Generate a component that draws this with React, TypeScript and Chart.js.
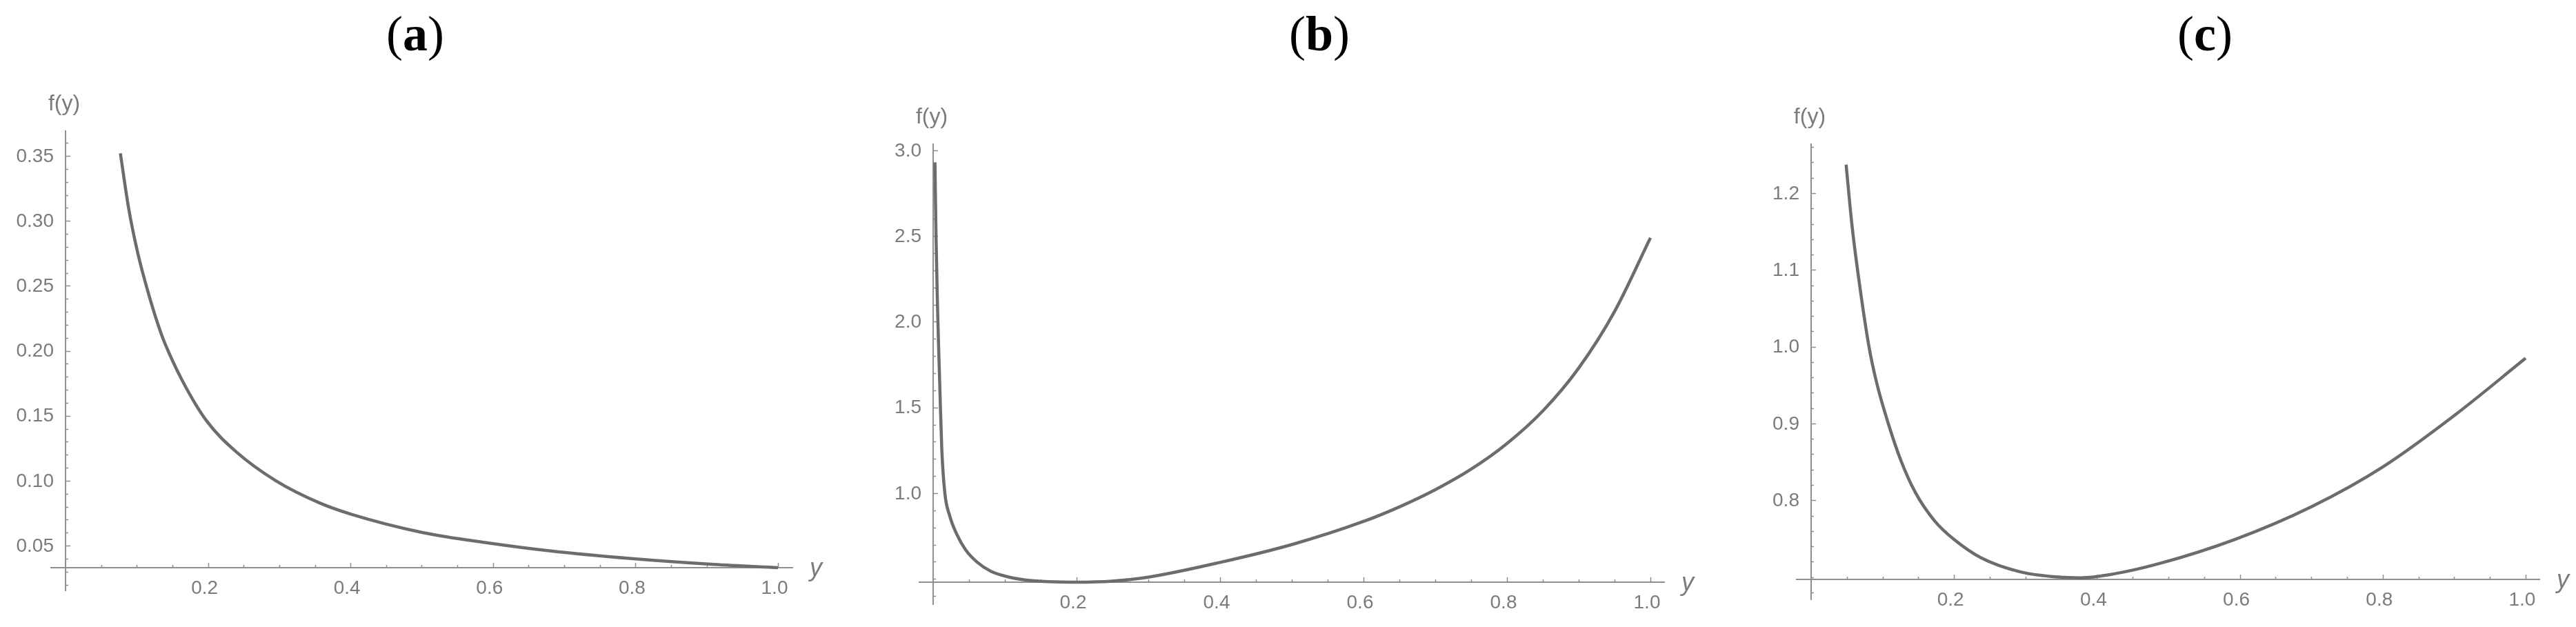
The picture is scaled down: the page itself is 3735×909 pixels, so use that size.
import React, { useEffect, useRef } from 'react';
import { Chart, registerables } from 'chart.js';

Chart.register(...registerables);

// ---------- data: panel (a) ----------
const aX = [0.077, 0.0885, 0.1015, 0.117, 0.134, 0.140, 0.163, 0.198, 0.240, 0.295, 0.356, 0.402, 0.502, 0.594, 0.679, 0.794, 0.910, 1.0];
const aY = [0.352, 0.310, 0.275, 0.243, 0.2135, 0.205, 0.178, 0.146, 0.122, 0.100, 0.083, 0.074, 0.060, 0.052, 0.046, 0.040, 0.0355, 0.033];

// ---------- data: panel (b) ----------
const bX = [0.0025, 0.004, 0.006, 0.008, 0.010, 0.012, 0.0163, 0.0228, 0.0324, 0.045, 0.0612, 0.0805, 0.106, 0.132, 0.16, 0.2, 0.25, 0.3, 0.4, 0.5, 0.6, 0.65, 0.7, 0.75, 0.8, 0.85, 0.9, 0.95, 1.0];
const bY = [2.93, 2.50, 2.10, 1.80, 1.52, 1.26, 1.0, 0.872, 0.765, 0.671, 0.598, 0.544, 0.51, 0.492, 0.484, 0.481, 0.487, 0.51, 0.596, 0.70, 0.835, 0.92, 1.02, 1.14, 1.29, 1.48, 1.73, 2.06, 2.49];

// ---------- data: panel (c) ----------
const cX = [0.049, 0.057, 0.065, 0.081, 0.092, 0.108, 0.126, 0.146, 0.173, 0.2, 0.238, 0.292, 0.346, 0.377, 0.423, 0.485, 0.593, 0.701, 0.801, 0.901, 1.0];
const cY = [1.237, 1.16, 1.10, 1.0, 0.952, 0.9, 0.851, 0.810, 0.773, 0.749, 0.725, 0.707, 0.700, 0.699, 0.704, 0.717, 0.749, 0.792, 0.844, 0.911, 0.985];

// ---------- tick labels ----------
const xTickValues = [0.2, 0.4, 0.6, 0.8, 1.0];
const xTickLabels = ['0.2', '0.4', '0.6', '0.8', '1.0'];
const aYTickValues = [0.05, 0.10, 0.15, 0.20, 0.25, 0.30, 0.35];
const aYTickLabels = ['0.05', '0.10', '0.15', '0.20', '0.25', '0.30', '0.35'];
const bYTickValues = [1.0, 1.5, 2.0, 2.5, 3.0];
const bYTickLabels = ['1.0', '1.5', '2.0', '2.5', '3.0'];
const cYTickValues = [0.8, 0.9, 1.0, 1.1, 1.2];
const cYTickLabels = ['0.8', '0.9', '1.0', '1.1', '1.2'];
const panelLetters = ['a', 'b', 'c'];
const yAxisName = 'f(y)';
const xAxisName = 'y';

// ---------- styling / layout ----------
const PANEL_W = 1245;
const PANEL_H = 909;
const CURVE_COLOR = '#6c6c6c';
const AXIS_COLOR = '#8f8f8f';
const LABEL_COLOR = '#7b7b7b';
const SANS = '"Liberation Sans", Arial, sans-serif';

type PanelCfg = {
  letter: string;
  titleX: number;
  xs: number[];
  ys: number[];
  xMin: number; xMax: number; yMin: number; yMax: number;
  cross: number;
  yTicks: number[]; yLabels: string[];
  yMinorStep: number;
  pad: { left: number; right: number; top: number; bottom: number };
};

const panels: PanelCfg[] = [
  {
    letter: panelLetters[0], titleX: 602, xs: aX, ys: aY,
    xMin: -0.0213, xMax: 1.0213, yMin: 0.01496, yMax: 0.36965, cross: 0.033,
    yTicks: aYTickValues, yLabels: aYTickLabels, yMinorStep: 0.01,
    pad: { left: 73, right: 95, top: 189, bottom: 52 },
  },
  {
    letter: panelLetters[1], titleX: 1913 - PANEL_W, xs: bX, ys: bY,
    xMin: -0.0202, xMax: 1.0202, yMin: 0.348, yMax: 3.0402, cross: 0.481,
    yTicks: bYTickValues, yLabels: bYTickLabels, yMinorStep: 0.1,
    pad: { left: 87, right: 76, top: 208, bottom: 32 },
  },
  {
    letter: panelLetters[2], titleX: 3197 - 2 * PANEL_W, xs: cX, ys: cY,
    xMin: -0.0212, xMax: 1.0203, yMin: 0.67, yMax: 1.2647, cross: 0.697,
    yTicks: cYTickValues, yLabels: cYTickLabels, yMinorStep: 0.02,
    pad: { left: 114, right: 52, top: 208, bottom: 39 },
  },
];

function steps(min: number, max: number, step: number): number[] {
  const out: number[] = [];
  const start = Math.ceil(min / step - 1e-9);
  const end = Math.floor(max / step + 1e-9);
  for (let i = start; i <= end; i++) out.push(+(i * step).toFixed(6));
  return out;
}

function makeAxesPlugin(cfg: PanelCfg) {
  return {
    id: 'mathAxes_' + cfg.letter,
    beforeDatasetsDraw(chart: any) {
      const { ctx, chartArea } = chart;
      const xs = chart.scales.x;
      const ys = chart.scales.y;
      const ax = Math.round(xs.getPixelForValue(0));
      const ay = Math.round(ys.getPixelForValue(cfg.cross));
      ctx.save();
      ctx.strokeStyle = AXIS_COLOR;
      ctx.lineWidth = 2;
      ctx.beginPath();
      ctx.moveTo(chartArea.left, ay);
      ctx.lineTo(chartArea.right, ay);
      ctx.moveTo(ax, chartArea.top);
      ctx.lineTo(ax, chartArea.bottom);
      ctx.stroke();

      ctx.lineWidth = 1.5;
      ctx.beginPath();
      const yMinor = steps(cfg.yMin, cfg.yMax, cfg.yMinorStep);
      yMinor.forEach((v) => {
        const py = Math.round(ys.getPixelForValue(v)) + 0.5;
        const major = cfg.yTicks.some((t) => Math.abs(t - v) < 1e-6);
        ctx.moveTo(ax, py);
        ctx.lineTo(ax + (major ? 7 : 4), py);
      });
      const xMinor = steps(0.0001, cfg.xMax, 0.05);
      xMinor.forEach((v) => {
        const px = Math.round(xs.getPixelForValue(v)) + 0.5;
        const major = xTickValues.some((t) => Math.abs(t - v) < 1e-6);
        ctx.moveTo(px, ay);
        ctx.lineTo(px, ay - (major ? 7 : 4));
      });
      ctx.stroke();
      ctx.restore();
    },
    afterDraw(chart: any) {
      const { ctx, chartArea } = chart;
      const xs = chart.scales.x;
      const ys = chart.scales.y;
      const ax = xs.getPixelForValue(0);
      const ay = ys.getPixelForValue(cfg.cross);
      ctx.save();
      ctx.fillStyle = LABEL_COLOR;
      ctx.font = `28px ${SANS}`;
      ctx.textAlign = 'right';
      ctx.textBaseline = 'middle';
      cfg.yTicks.forEach((v, i) => {
        ctx.fillText(cfg.yLabels[i], ax - 17, ys.getPixelForValue(v) + 1);
      });
      ctx.textAlign = 'center';
      xTickValues.forEach((v, i) => {
        ctx.fillText(xTickLabels[i], xs.getPixelForValue(v) - 5, ay + 30);
      });
      ctx.font = `32px ${SANS}`;
      ctx.fillText(yAxisName, ax - 2, chartArea.top - 38);
      ctx.font = `italic 36px ${SANS}`;
      ctx.fillText(xAxisName, chartArea.right + 33, ay + 2);
      ctx.restore();
    },
  };
}

function Panel({ cfg, index }: { cfg: PanelCfg; index: number }) {
  const ref = useRef<HTMLCanvasElement | null>(null);
  useEffect(() => {
    if (!ref.current) return;
    const chart = new Chart(ref.current, {
      type: 'line',
      data: {
        datasets: [
          {
            data: cfg.xs.map((x, i) => ({ x, y: cfg.ys[i] })),
            borderColor: CURVE_COLOR,
            borderWidth: 4.5,
            pointRadius: 0,
            fill: false,
            cubicInterpolationMode: 'monotone',
          },
        ],
      },
      options: {
        responsive: false,
        animation: false,
        events: [],
        layout: { padding: cfg.pad, autoPadding: false },
        scales: {
          x: { type: 'linear', min: cfg.xMin, max: cfg.xMax, display: false },
          y: { type: 'linear', min: cfg.yMin, max: cfg.yMax, display: false },
        },
        plugins: {
          legend: { display: false },
          tooltip: { enabled: false },
        },
      },
      plugins: [makeAxesPlugin(cfg)],
    } as any);
    return () => chart.destroy();
  }, [cfg]);
  return (
    <canvas
      ref={ref}
      width={PANEL_W}
      height={PANEL_H}
      style={{ position: 'absolute', left: index * PANEL_W, top: 0, width: PANEL_W, height: PANEL_H }}
    />
  );
}

export default function App() {
  return (
    <div
      style={{
        position: 'absolute',
        left: 0,
        top: 0,
        width: PANEL_W * 3,
        height: PANEL_H,
        background: '#ffffff',
        overflow: 'hidden',
      }}
    >
      {panels.map((cfg, i) => (
        <React.Fragment key={cfg.letter}>
          <Panel cfg={cfg} index={i} />
          <div
            style={{
              position: 'absolute',
              left: i * PANEL_W + cfg.titleX - 100,
              top: 13,
              width: 200,
              textAlign: 'center',
              fontFamily: '"Liberation Serif", "Times New Roman", serif',
              fontSize: 72,
              lineHeight: '72px',
              color: '#000',
            }}
          >
            (<b>{cfg.letter}</b>)
          </div>
        </React.Fragment>
      ))}
    </div>
  );
}
